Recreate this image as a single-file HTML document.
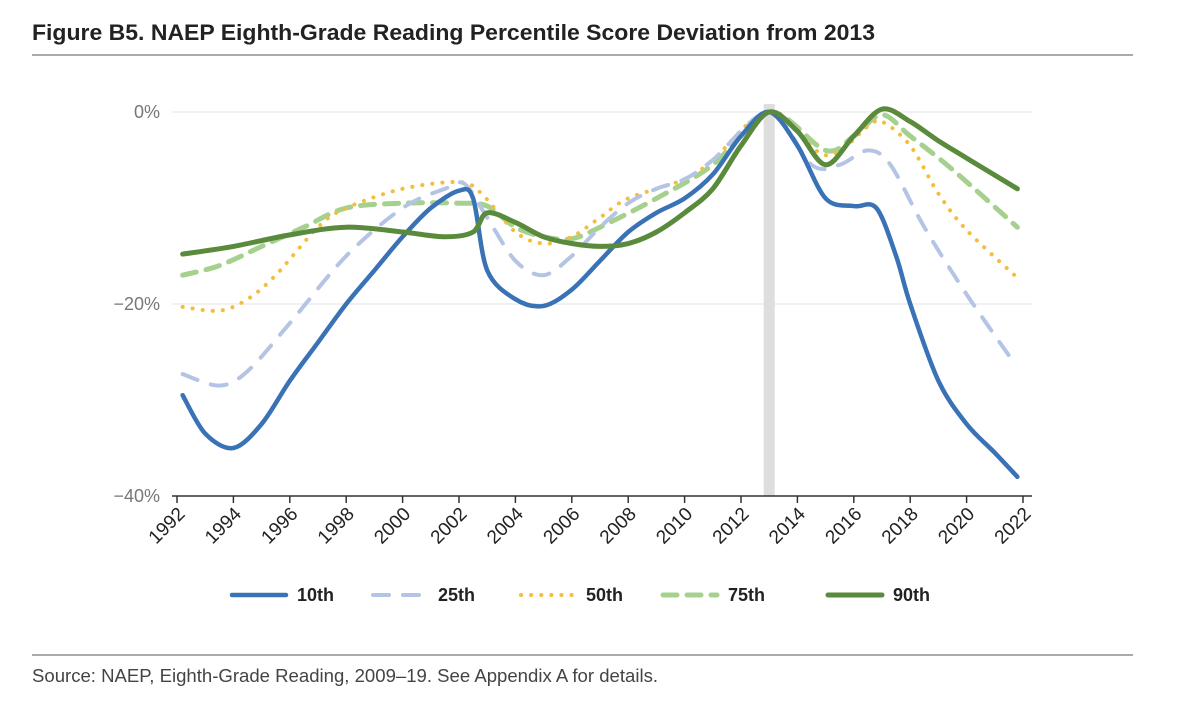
<!DOCTYPE html>
<html><head><meta charset="utf-8">
<style>
body{margin:0;background:#fff;width:1179px;height:723px;overflow:hidden;font-family:"Liberation Sans",sans-serif;}
svg{position:absolute;left:0;top:0}
</style></head>
<body>
<svg id="chart" width="1179" height="723" xmlns="http://www.w3.org/2000/svg">
<text x="32" y="40" font-size="22" font-weight="bold" fill="#222" textLength="843" lengthAdjust="spacingAndGlyphs">Figure B5. NAEP Eighth-Grade Reading Percentile Score Deviation from 2013</text>
<line x1="32" y1="55" x2="1133" y2="55" stroke="#555" stroke-width="1"/>
<line x1="32" y1="655" x2="1133" y2="655" stroke="#555" stroke-width="1"/>
<text x="32" y="682" font-size="18" fill="#444" textLength="626" lengthAdjust="spacingAndGlyphs">Source: NAEP, Eighth-Grade Reading, 2009–19. See Appendix A for details.</text>
<g id="plot"></g>
<g id="legend"></g>
</svg>
<script>
const yTicks=[0,-20,-40];
const yTickLabels=["0%","−20%","−40%"];
const xTicks=[1992,1994,1996,1998,2000,2002,2004,2006,2008,2010,2012,2014,2016,2018,2020,2022];
const highlightYear=2013;
const seriesNames=["10th","25th","50th","75th","90th"];
const yrs10=[1992.2,1993,1994,1995,1996,1997,1998,1999,2000,2001,2002,2002.5,2003,2004,2005,2006,2007,2008,2009,2010,2011,2012,2013,2014,2015,2016,2016.8,2017.5,2018,2019,2020,2021,2021.8];
const val10=[-29.5,-33.5,-35,-32.5,-28,-24,-20,-16.5,-13,-10,-8.2,-9,-16.5,-19.5,-20.2,-18.5,-15.5,-12.5,-10.5,-9,-6.5,-2.5,0,-3.5,-9,-9.8,-10,-15,-20,-28,-32.5,-35.5,-38];
const yrs25=[1992.2,1993.5,1994.5,1996,1998,2000,2001.5,2002.2,2003,2004,2005,2006,2007,2008,2009,2010,2011,2013,2014.5,2015.5,2016.5,2017.3,2018.5,2020,2021.7];
const val25=[-27.3,-28.5,-27,-22,-15,-10,-8,-7.5,-11,-15.5,-17,-15,-12,-9.5,-8,-7,-5,0,-5.5,-5.5,-4,-5.5,-12,-19,-26.2];
const yrs50=[1992.2,1993.5,1994.5,1995.5,1997,1998,2000,2002,2002.8,2004,2005,2006,2007,2008,2010,2011,2013,2015,2016.5,2017,2018,2019,2020,2021.7];
const val50=[-20.3,-20.7,-19.5,-17,-12,-10,-8,-7.3,-8.5,-12.5,-13.7,-13,-11,-9,-7,-5,0,-4.5,-1.5,-1,-3.5,-8.5,-12.3,-17];
const yrs75=[1992.2,1993.5,1995,1996.5,1998,2000,2002,2003,2004,2005,2006,2007,2009,2011,2013,2015,2016,2017,2018,2019.5,2021.8];
const val75=[-17,-16,-14,-12,-10,-9.5,-9.5,-9.8,-12,-13,-13.2,-12,-9,-5.5,0,-4,-2.5,-0.3,-2.5,-6,-12];
const yrs90=[1992.2,1994,1996,1998,2000,2001.5,2002.5,2003,2004,2005,2006,2007,2008,2009,2010,2011,2012,2013,2014,2015,2016,2017,2018,2019,2020,2021.8];
const val90=[-14.8,-14,-12.8,-12,-12.5,-13,-12.5,-10.5,-11.5,-13,-13.7,-14,-13.7,-12.5,-10.5,-8,-3.5,0,-2,-5.5,-2.5,0.3,-1,-3,-4.8,-8];

const NS="http://www.w3.org/2000/svg";
const X=y=>177+(y-1992)*(1023-177)/30;
const Y=v=>112+(-v)*(496-112)/40;
function mk(t,a,p){const e=document.createElementNS(NS,t);for(const k in a)e.setAttribute(k,a[k]);(p||plot).appendChild(e);return e;}
const plot=document.getElementById('plot');
const legend=document.getElementById('legend');
yTicks.forEach((v,i)=>{
  if(v!==-40){const g=mk('line',{x1:172,x2:1032,y1:Y(v),y2:Y(v),stroke:'#e3e3e3','stroke-width':1});
  
  }
  const t=mk('text',{x:160,y:Y(v)+6,'text-anchor':'end','font-size':18,fill:'#777'});t.textContent=yTickLabels[i];
  
  
});
const band=mk('rect',{x:X(highlightYear)-5.5,y:104,width:11,height:392,fill:'#dedede'});


function smooth(xs,vs){
  const p=xs.map((x,i)=>[X(x),Y(vs[i])]);let d='M'+p[0][0]+','+p[0][1];
  for(let i=0;i<p.length-1;i++){const p0=p[i-1]||p[i],p1=p[i],p2=p[i+1],p3=p[i+2]||p2;
    const t=0.16;
    d+=' C'+(p1[0]+(p2[0]-p0[0])*t)+','+(p1[1]+(p2[1]-p0[1])*t)+' '+(p2[0]-(p3[0]-p1[0])*t)+','+(p2[1]-(p3[1]-p1[1])*t)+' '+p2[0]+','+p2[1];}
  return d;}
const styles=[
 {c:'#3a72b6',w:4.5,da:'',cap:'round'},
 {c:'#b4c4e4',w:4,da:'16 14',cap:'round'},
 {c:'#f2be3c',w:4,da:'0.1 10',cap:'round'},
 {c:'#a6d08e',w:5,da:'14 10',cap:'round'},
 {c:'#5a8a3c',w:5,da:'',cap:'round'}];
const data=[[yrs10,val10],[yrs25,val25],[yrs50,val50],[yrs75,val75],[yrs90,val90]];
[3,2,1,0,4].forEach(i=>{const s=styles[i];
  const e=mk('path',{d:smooth(data[i][0],data[i][1]),fill:'none',stroke:s.c,'stroke-width':s.w,'stroke-dasharray':s.da,'stroke-linecap':s.cap,'stroke-linejoin':'round'});
  
  
});
const ax=mk('line',{x1:172,x2:1032,y1:496,y2:496,stroke:'#333','stroke-width':1.5});


xTicks.forEach(y=>{
  const t=mk('line',{x1:X(y),x2:X(y),y1:496,y2:503,stroke:'#333','stroke-width':1.5});
  
  
  const l=mk('text',{x:X(y)+9,y:515,'text-anchor':'end','font-size':19,fill:'#222',transform:'rotate(-45 '+(X(y)+9)+' 515)'});
  l.textContent=y;
  
  
});
const lx=[232,373,521,663,828];
seriesNames.forEach((n,i)=>{const s=styles[i];
  const g=mk('line',{x1:lx[i],x2:lx[i]+54,y1:595,y2:595,stroke:s.c,'stroke-width':s.w,'stroke-dasharray':s.da,'stroke-linecap':s.cap},legend);
  
  
  const t=mk('text',{x:lx[i]+65,y:601,'font-size':18,'font-weight':'bold',fill:'#222'},legend);
  t.textContent=n;
  
  
});
</script>
</body></html>
